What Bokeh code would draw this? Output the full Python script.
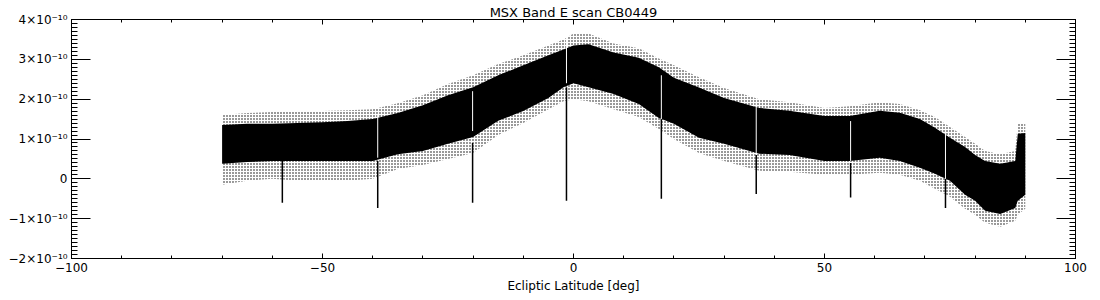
from bokeh.plotting import figure
from bokeh.models import LinearAxis, FixedTicker, Range1d, ColumnDataSource
from bokeh.embed import file_html
from bokeh.resources import INLINE

# Ecliptic latitude nodes [deg] and band envelopes (units of 1e-10)
lat = [-70, -65, -60, -55, -50, -45, -40, -35, -30, -25, -20, -15, -10, -5, -2, 0, 3, 8,
       13, 17, 20, 25, 30, 37, 43, 50, 55, 61, 65, 69, 72, 75, 78, 80, 82, 85, 88, 88.5, 90]
core_top = [1.35, 1.38, 1.38, 1.40, 1.42, 1.45, 1.50, 1.65, 1.85, 2.10, 2.30, 2.60, 2.85, 3.10,
            3.25, 3.35, 3.38, 3.17, 3.04, 2.80, 2.54, 2.29, 2.03, 1.78, 1.71, 1.58, 1.58, 1.71,
            1.66, 1.50, 1.28, 1.03, 0.80, 0.60, 0.45, 0.38, 0.45, 1.13, 1.15]
core_bottom = [0.38, 0.42, 0.45, 0.45, 0.45, 0.45, 0.45, 0.62, 0.70, 0.88, 1.05, 1.46, 1.70, 2.03,
               2.30, 2.40, 2.30, 2.13, 1.88, 1.53, 1.38, 1.03, 0.88, 0.63, 0.60, 0.45, 0.45, 0.53,
               0.45, 0.28, 0.13, -0.05, -0.40, -0.55, -0.80, -0.88, -0.73, -0.55, -0.40]
outer_top = [1.60, 1.65, 1.68, 1.70, 1.70, 1.72, 1.75, 1.90, 2.10, 2.38, 2.60, 2.88, 3.10, 3.35,
             3.50, 3.65, 3.65, 3.40, 3.28, 3.02, 2.85, 2.55, 2.28, 2.00, 1.92, 1.78, 1.82, 1.92,
             1.88, 1.72, 1.55, 1.30, 1.05, 0.88, 0.70, 0.62, 0.70, 1.40, 1.40]
outer_bottom = [-0.15, -0.05, 0.00, -0.05, -0.05, -0.05, 0.00, 0.25, 0.35, 0.50, 0.65, 1.10, 1.40,
                1.75, 1.95, 2.00, 1.95, 1.75, 1.55, 1.25, 1.00, 0.65, 0.45, 0.20, 0.18, 0.10, 0.10,
                0.15, 0.10, -0.05, -0.25, -0.45, -0.75, -0.90, -1.10, -1.20, -1.05, -0.90, -0.75]

# Downward spikes (black) and white gaps through the band
spike_lat = [-58.0, -39.0, -20.1, -1.4, 17.5, 36.4, 55.2, 74.1]
spike_top = [0.45, 0.45, 0.90, 2.30, 1.50, 0.60, 0.40, 0.00]
spike_bottom = [-0.60, -0.73, -0.60, -0.55, -0.50, -0.38, -0.47, -0.73]
gap_lat = [-39.0, -20.1, -1.4, 17.5, 36.4, 55.2, 74.1]
gap_top = [1.63, 2.20, 3.60, 2.60, 1.90, 1.45, 1.20]
gap_bottom = [0.53, 1.20, 2.40, 1.50, 0.60, 0.45, 0.00]

x_ticks = [-100, -50, 0, 50, 100]
x_tick_labels = ["\u2212100", "\u221250", "0", "50", "100"]
y_ticks = [-2, -1, 0, 1, 2, 3, 4]
y_tick_labels = ["\u22122\u00d710\u207b\u00b9\u2070", "\u22121\u00d710\u207b\u00b9\u2070", "0",
                 "1\u00d710\u207b\u00b9\u2070", "2\u00d710\u207b\u00b9\u2070",
                 "3\u00d710\u207b\u00b9\u2070", "4\u00d710\u207b\u00b9\u2070"]

FONT = "DejaVu Sans"

p = figure(width=1100, height=300, x_range=Range1d(-100, 100), y_range=Range1d(-2, 4),
           output_backend="svg", toolbar_location=None,
           min_border_left=71, min_border_right=25, min_border_top=19, min_border_bottom=42,
           background_fill_color="white", border_fill_color="white")
p.grid.visible = False
p.outline_line_color = "black"
p.outline_line_width = 1

p.title.text = "MSX Band E scan CB0449"
p.title.align = "center"
p.title.text_font = FONT
p.title.text_font_size = "13px"
p.title.text_font_style = "normal"
p.title.text_color = "black"
p.title.standoff = 0
p.title.offset = 0

src = ColumnDataSource(dict(lat=lat, ct=core_top, cb=core_bottom, ot=outer_top, ob=outer_bottom))
p.varea(x="lat", y1="ob", y2="ot", source=src, fill_color="white", fill_alpha=0.0,
        hatch_pattern="dot", hatch_color="black", hatch_scale=3, hatch_weight=1)
p.varea(x="lat", y1="cb", y2="ct", source=src, fill_color="black")

p.segment(x0=spike_lat, y0=spike_top, x1=spike_lat, y1=spike_bottom, line_color="black", line_width=1.5)
p.segment(x0=gap_lat, y0=gap_top, x1=gap_lat, y1=gap_bottom, line_color="white", line_width=1)

x_minor = [v for v in range(-100, 101, 10)]
y_minor = [v / 10 for v in range(-20, 41)]


def style_axis(ax, ticks, minor, labels, tin, tmin, show_labels):
    ax.ticker = FixedTicker(ticks=ticks, minor_ticks=minor)
    ax.axis_line_color = "black"
    ax.major_tick_line_color = "black"
    ax.minor_tick_line_color = "black"
    ax.major_tick_in = tin
    ax.major_tick_out = 0
    ax.minor_tick_in = tmin
    ax.minor_tick_out = 0
    ax.major_label_text_font = FONT
    ax.major_label_text_font_size = "12px"
    ax.major_label_text_color = "black"
    if show_labels:
        ax.major_label_overrides = {t: l for t, l in zip(ticks, labels)}
    else:
        ax.major_label_overrides = {t: "" for t in ticks}
    ax.major_label_standoff = 4


style_axis(p.xaxis[0], x_ticks, x_minor, x_tick_labels, 5, 3, True)
style_axis(p.yaxis[0], y_ticks, y_minor, y_tick_labels, 19, 6, True)
p.xaxis[0].axis_label = "Ecliptic Latitude [deg]"
p.xaxis[0].axis_label_text_font = FONT
p.xaxis[0].axis_label_text_font_size = "12px"
p.xaxis[0].axis_label_text_font_style = "normal"
p.xaxis[0].axis_label_text_color = "black"
p.xaxis[0].axis_label_standoff = 4

top = LinearAxis()
style_axis(top, x_ticks, x_minor, x_tick_labels, 5, 3, False)
p.add_layout(top, "above")
right = LinearAxis()
style_axis(right, y_ticks, y_minor, y_tick_labels, 19, 6, False)
p.add_layout(right, "right")

open("out.html", "w").write(file_html(p, INLINE))
